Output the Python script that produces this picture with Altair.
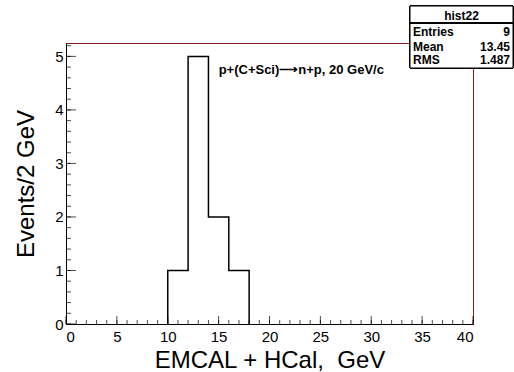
import altair as alt
import pandas as pd

# Histogram data (bin width 2 GeV)
bin_edges = [10, 12, 14, 16, 18]
counts = [1, 5, 2, 1]

# Axis ticks
x_major = [0, 5, 10, 15, 20, 25, 30, 35, 40]
x_minor = list(range(0, 41))
y_major = [0, 1, 2, 3, 4, 5]
y_minor = [round(0.2 * i, 1) for i in range(0, 27)]

# Stats box
stat_title = "hist22"
stat_names = ["Entries", "Mean", "RMS"]
stat_values = ["9", "13.45", "1.487"]

annotation = "p+(C+Sci)\u27f6n+p, 20 GeV/c"

FONT = "Liberation Sans"
W, H = 407, 281

# Build step outline from edges and counts
xs = [bin_edges[0]] + bin_edges
ys = [0] + counts + [0]
outline = pd.DataFrame({"x": xs, "y": ys, "i": list(range(len(xs)))})

xscale = alt.Scale(domain=[0, 40], nice=False, zero=False)
yscale = alt.Scale(domain=[0, 5.25], nice=False, zero=False)

xaxis = alt.Axis(
    orient="bottom", values=x_major, ticks=False, domain=True,
    domainColor="black", domainWidth=1, labelFont=FONT, labelFontSize=15,
    labelColor="black", labelPadding=5, title="EMCAL + HCal,\u00a0 GeV",
    titleFont=FONT, titleFontSize=24, titleFontWeight="normal",
    titleColor="black", titlePadding=4, grid=False)
yaxis = alt.Axis(
    orient="left", values=y_major, ticks=False, domain=True,
    domainColor="black", domainWidth=1, labelFont=FONT, labelFontSize=15,
    labelColor="black", labelPadding=3, title="Events/2 GeV",
    titleFont=FONT, titleFontSize=24, titleFontWeight="normal",
    titleColor="black", titlePadding=16, grid=False)


def X(field="x"):
    return alt.X(f"{field}:Q", scale=xscale, axis=xaxis)


def Y(field="y"):
    return alt.Y(f"{field}:Q", scale=yscale, axis=yaxis)


hist = alt.Chart(outline).mark_line(
    interpolate="step-after", color="black", strokeWidth=1.5
).encode(x=X(), y=Y(), order="i:O")


def xticks(vals, length):
    return alt.Chart(pd.DataFrame({"x": vals})).mark_tick(
        orient="vertical", color="black", thickness=1, size=length
    ).encode(x=X(), y=alt.value(H - length / 2))


def yticks(vals, length):
    return alt.Chart(pd.DataFrame({"y": vals})).mark_tick(
        orient="horizontal", color="black", thickness=1, size=length
    ).encode(y=Y(), x=alt.value(length / 2))


ticks = [xticks(x_minor, 4), xticks(x_major, 8), yticks(y_minor, 5), yticks(y_major, 10)]

ann = alt.Chart(pd.DataFrame({"x": [15.0], "y": [4.68], "t": [annotation]})).mark_text(
    align="left", baseline="alphabetic", font=FONT, fontSize=13,
    fontWeight="bold", color="black"
).encode(x=X(), y=Y(), text="t:N")

# Stats box (pixel positions relative to plot area)
box = alt.Chart(outline).mark_rect(
    fill="white", stroke="black", strokeWidth=1
).encode(x=alt.value(344), x2=alt.value(447), y=alt.value(-37), y2=alt.value(25))
sep = alt.Chart(outline).mark_rule(color="black", strokeWidth=1).encode(
    x=alt.value(344), x2=alt.value(447), y=alt.value(-20))

stat_layers = [
    alt.Chart(pd.DataFrame({"t": [stat_title]})).mark_text(
        align="center", baseline="alphabetic", font=FONT, fontSize=12,
        fontWeight="bold", color="black"
    ).encode(x=alt.value(395.5), y=alt.value(-23), text="t:N")
]
row_y = [-7, 8, 21]
for name, val, yy in zip(stat_names, stat_values, row_y):
    stat_layers.append(alt.Chart(pd.DataFrame({"t": [name]})).mark_text(
        align="left", baseline="alphabetic", font=FONT, fontSize=12,
        fontWeight="bold", color="black"
    ).encode(x=alt.value(347), y=alt.value(yy), text="t:N"))
    stat_layers.append(alt.Chart(pd.DataFrame({"t": [val]})).mark_text(
        align="right", baseline="alphabetic", font=FONT, fontSize=12,
        fontWeight="bold", color="black"
    ).encode(x=alt.value(444), y=alt.value(yy), text="t:N"))

chart = alt.layer(
    hist, *ticks, ann, box, sep, *stat_layers
).properties(
    width=W, height=H,
    autosize=alt.AutoSizeParams(type="none"),
    padding={"left": 66, "top": 43, "right": 41, "bottom": 48},
    background="white",
).configure_view(stroke="#8b1a1a", strokeWidth=1)

chart.save("out.html", embed_options={"renderer": "svg", "actions": False})
